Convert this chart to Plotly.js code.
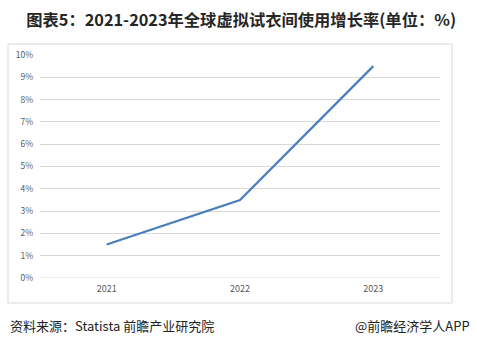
<!DOCTYPE html>
<html><head><meta charset="utf-8">
<script src="https://cdn.plot.ly/plotly-3.0.1.min.js"></script>
<style>html,body{margin:0;padding:0;background:#fff;}#chart{width:477px;height:346px;}</style>
</head><body><div id="chart"></div>
<script>
const years = ['2021', '2022', '2023'];
const growthRate = [0.015, 0.035, 0.095];
const titleText = '图表5：2021-2023年全球虚拟试衣间使用增长率(单位：%)';
const sourceText = '资料来源：Statista 前瞻产业研究院';
const brandText = '@前瞻经济学人APP';

const font = '"Noto Sans CJK SC", "Noto Sans", sans-serif';
Plotly.newPlot('chart', [{
  x: years, y: growthRate, type: 'scatter', mode: 'lines',
  line: {color: '#4a7ebb', width: 2.2}, hoverinfo: 'skip'
}], {
  width: 477, height: 346,
  margin: {l: 40, r: 37, t: 55, b: 68},
  paper_bgcolor: '#fff', plot_bgcolor: '#fff',
  showlegend: false,
  title: {text: '<b>' + titleText + '</b>', x: 0.055, xanchor: 'left', y: 0.94, yanchor: 'middle',
          font: {family: font, size: 16.3, color: '#262626'}},
  xaxis: {type: 'category', range: [-0.5, 2.5], showgrid: false, zeroline: false, showline: false, ticks: '',
          tickfont: {family: font, size: 9, color: '#595959'}, ticklabelstandoff: 4},
  yaxis: {range: [0, 0.1], dtick: 0.01, tickformat: '.0%', showgrid: true, gridcolor: '#d9d9d9',
          gridwidth: 1, zeroline: false, showline: false, ticks: '', fixedrange: true,
          tickfont: {family: font, size: 8.5, color: '#595959'}, ticklabelstandoff: 6},
  shapes: [{type: 'line', xref: 'paper', yref: 'y', x0: 0, x1: 1, y0: 0, y1: 0,
            line: {color: '#d9d9d9', width: 1}},
           {type: 'rect', xref: 'paper', yref: 'paper', x0: -0.08, x1: 1.03, y0: -0.112, y1: 1.049,
            line: {color: '#d9d9d9', width: 1}, fillcolor: 'rgba(0,0,0,0)'}],
  annotations: [
    {text: sourceText, xref: 'paper', yref: 'paper', x: -0.08, y: -0.215, xanchor: 'left', yanchor: 'middle',
     showarrow: false, font: {family: font, size: 13, color: '#222'}},
    {text: brandText, xref: 'paper', yref: 'paper', x: 1.08, y: -0.215, xanchor: 'right', yanchor: 'middle',
     showarrow: false, font: {family: font, size: 13, color: '#222'}}
  ]
}, {displayModeBar: false, staticPlot: true});
</script></body></html>
